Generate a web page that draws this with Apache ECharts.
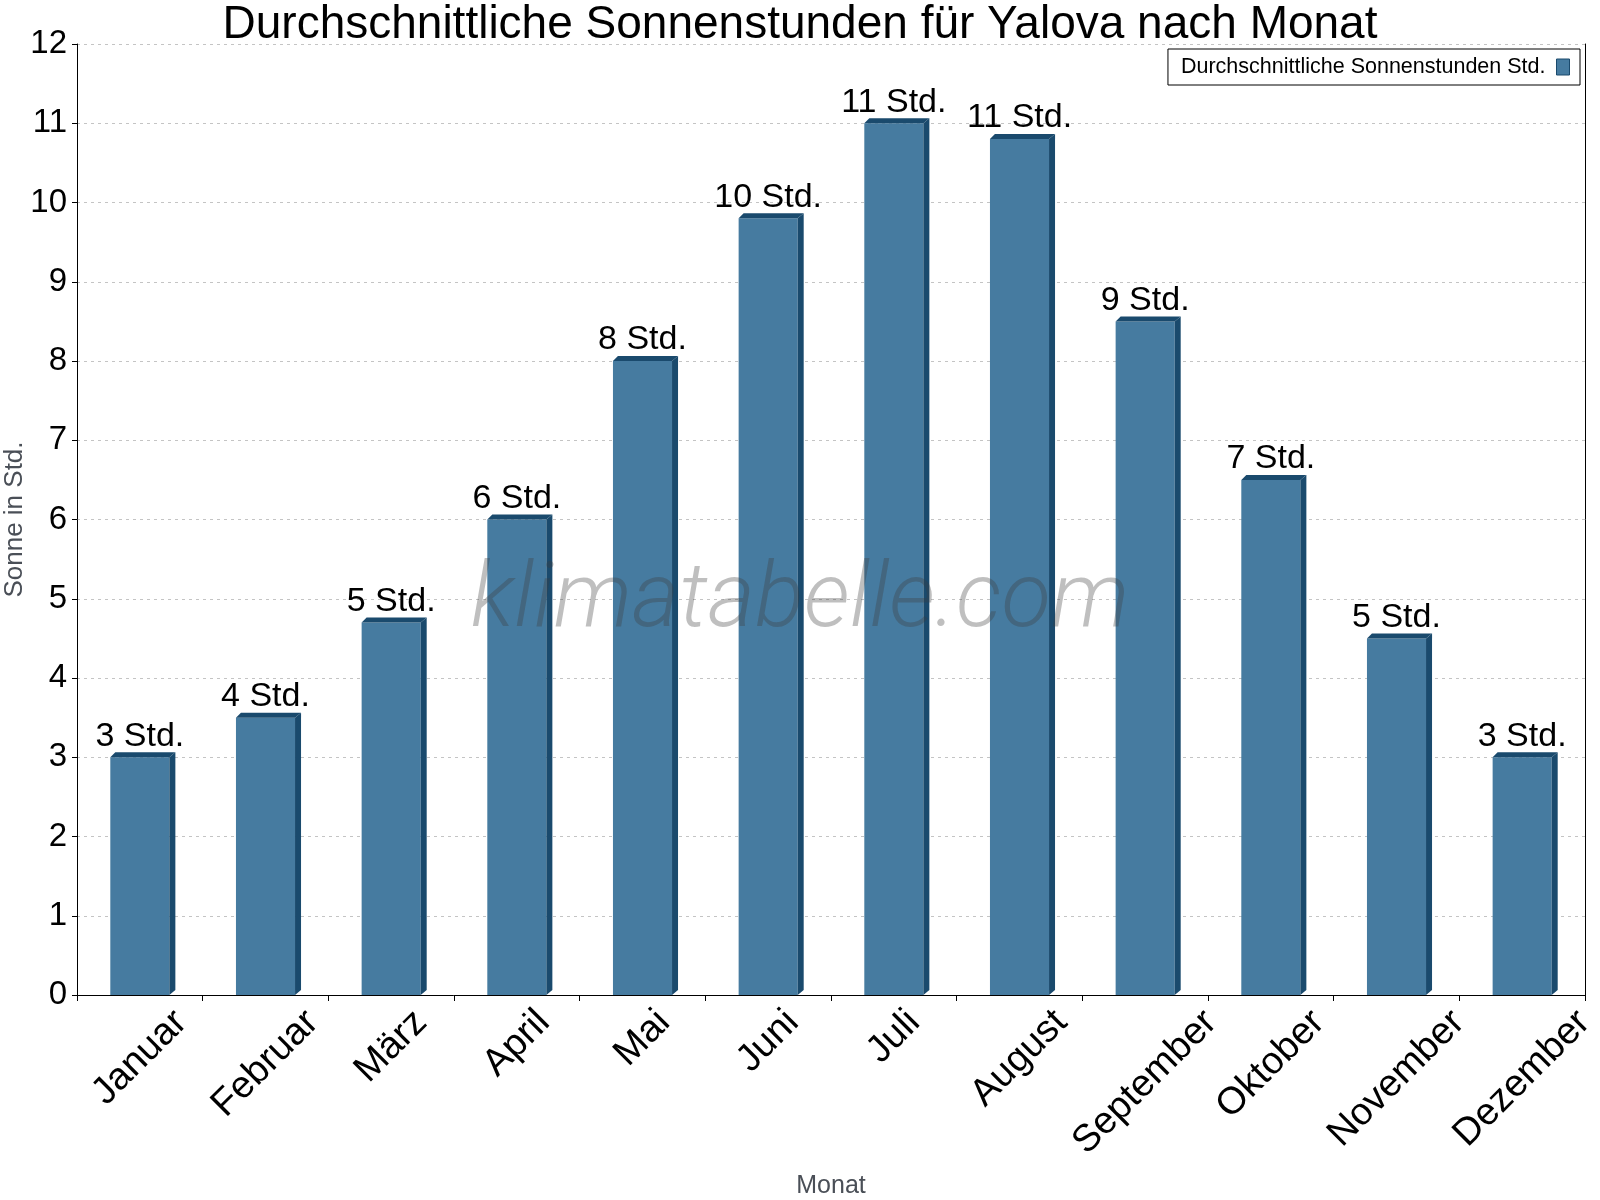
<!DOCTYPE html>
<html>
<head>
<meta charset="utf-8">
<script src="https://cdn.jsdelivr.net/npm/echarts@6.0.0/dist/echarts.min.js"></script>
<style>
  html, body { margin: 0; padding: 0; background: #fff; }
  #chart { width: 1600px; height: 1200px; }
</style>
</head>
<body>
<div id="chart"></div>
<script>
// Monate
var months = ['Januar', 'Februar', 'März', 'April', 'Mai', 'Juni', 'Juli', 'August', 'September', 'Oktober', 'November', 'Dezember'];
// Sonnenstunden pro Tag
var sunHours = [3.0, 3.5, 4.7, 6.0, 8.0, 9.8, 11.0, 10.8, 8.5, 6.5, 4.5, 3.0];
// Beschriftung über den Balken (gerundet)
var labelValues = [3, 4, 5, 6, 8, 10, 11, 11, 9, 7, 5, 3];
var yTicks = [0, 1, 2, 3, 4, 5, 6, 7, 8, 9, 10, 11, 12];

var FONT = '"Liberation Sans", Arial, Helvetica, sans-serif';
var FRONT = '#467ba0';
var DARK = '#1a4a6d';
var MONTH_SIZE = 38;

// Textbreite messen, um gedrehte Monatsnamen oben bündig zu setzen
var ctx = document.createElement('canvas').getContext('2d');
ctx.font = MONTH_SIZE + 'px ' + FONT;

function renderBar(params, api) {
  var idx = params.dataIndex;
  var top = api.coord([api.value(0), api.value(1)]);
  var base = api.coord([api.value(0), 0]);
  var w = api.size([1, 0])[0] * 0.47;
  var x0 = top[0] - w / 2, x1 = top[0] + w / 2;
  var yT = top[1], yB = base[1];
  var d = 6, dy = 5;
  var L = ctx.measureText(months[idx]).width;
  var s = Math.SQRT1_2;

  return {
    type: 'group',
    children: [
      { type: 'rect', shape: { x: x0, y: yT, width: w, height: yB - yT }, style: { fill: FRONT } },
      { type: 'polygon', shape: { points: [[x1, yT], [x1 + d, yT - dy], [x1 + d, yB - dy], [x1, yB]] }, style: { fill: DARK } },
      { type: 'polygon', shape: { points: [[x0, yT], [x0 + dy, yT - dy], [x1 + d, yT - dy], [x1, yT]] }, style: { fill: DARK } },
      {
        type: 'text', x: top[0], y: yT - 4,
        style: { text: labelValues[idx] + ' Std.', fontSize: 34, fontFamily: FONT, fill: '#000', align: 'center', verticalAlign: 'bottom' }
      },
      {
        type: 'text', x: base[0], y: yB + 12 + s * (L / 2 + 0.36 * MONTH_SIZE), rotation: Math.PI / 4,
        style: { text: months[idx], fontSize: MONTH_SIZE, fontFamily: FONT, fill: '#000', align: 'center', verticalAlign: 'middle' }
      }
    ]
  };
}

var chart = echarts.init(document.getElementById('chart'));

chart.setOption({
  backgroundColor: '#fff',
  animation: false,
  title: {
    text: 'Durchschnittliche Sonnenstunden für Yalova nach Monat',
    left: 'center',
    top: -3,
    textStyle: { fontFamily: FONT, fontSize: 46, fontWeight: 'normal', color: '#000' }
  },
  legend: {
    right: 20,
    top: 49,
    align: 'right',
    padding: [7, 10, 7, 13],
    borderColor: '#000',
    borderWidth: 1,
    borderRadius: 0,
    itemWidth: 13,
    itemHeight: 16,
    itemGap: 8,
    icon: 'rect',
    itemStyle: { color: FRONT, borderColor: DARK, borderWidth: 1 },
    textStyle: { fontFamily: FONT, fontSize: 21.5, color: '#000', padding: [0, 6, 0, 0] },
    data: ['Durchschnittliche Sonnenstunden Std.']
  },
  grid: { left: 77, right: 15, top: 44, bottom: 205, outerBoundsMode: 'none', containLabel: false },
  xAxis: {
    type: 'category',
    data: months,
    name: 'Monat',
    nameLocation: 'middle',
    nameGap: 179,
    nameMoveOverlap: false,
    nameTextStyle: { fontFamily: FONT, fontSize: 25, color: '#4a4f57' },
    axisLine: { lineStyle: { color: '#000', width: 1 } },
    axisTick: { show: true, length: 6, lineStyle: { color: '#000' } },
    axisLabel: { show: false },
    splitLine: { show: false }
  },
  yAxis: [{
    type: 'value',
    min: yTicks[0],
    max: yTicks[yTicks.length - 1],
    interval: 1,
    name: 'Sonne in Std.',
    nameLocation: 'middle',
    nameGap: 49,
    nameMoveOverlap: false,
    nameRotate: 90,
    nameTextStyle: { fontFamily: FONT, fontSize: 26, color: '#4a4f57' },
    axisLine: { show: true, lineStyle: { color: '#000', width: 1 } },
    axisTick: { show: true, length: 5, lineStyle: { color: '#000' } },
    axisLabel: { fontFamily: FONT, fontSize: 33, color: '#000', margin: 10 },
    splitLine: { show: true, lineStyle: { color: '#c4c4c4', type: [3, 4], width: 1 } }
  }, {
    type: 'value',
    position: 'right',
    min: yTicks[0],
    max: yTicks[yTicks.length - 1],
    interval: 1,
    axisLine: { show: true, lineStyle: { color: '#000', width: 1 } },
    axisTick: { show: false },
    axisLabel: { show: false },
    splitLine: { show: false }
  }],
  graphic: [{
    type: 'text',
    x: 800,
    y: 603,
    z: 100,
    style: {
      text: 'klimatabelle.com',
      font: 'italic 300 91px Roboto, "Open Sans", sans-serif',
      fill: 'rgba(60,60,60,0.33)',
      align: 'center',
      verticalAlign: 'middle'
    }
  }],
  series: [{
    name: 'Durchschnittliche Sonnenstunden Std.',
    type: 'custom',
    clip: false,
    itemStyle: { color: FRONT },
    encode: { x: 0, y: 1 },
    renderItem: renderBar,
    data: sunHours.map(function (v, i) { return [i, v]; })
  }]
});
</script>
</body>
</html>
